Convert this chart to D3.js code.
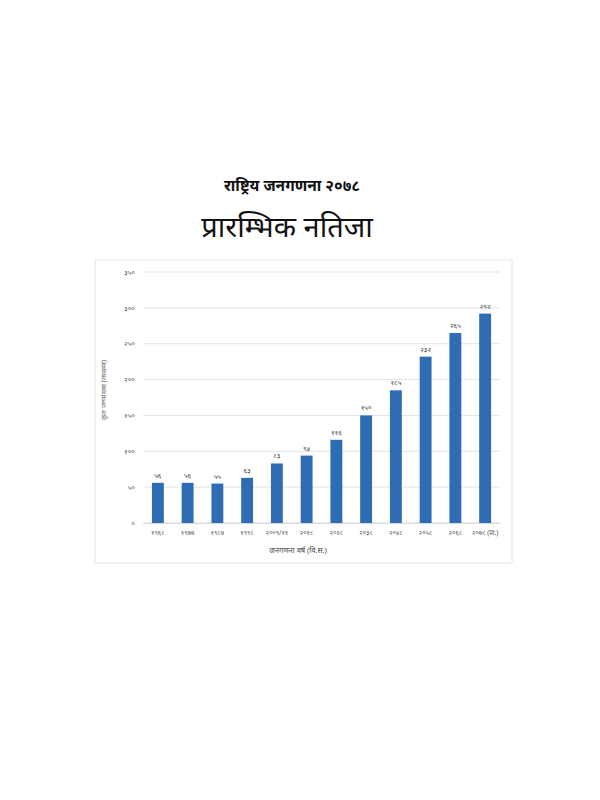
<!DOCTYPE html>
<html><head><meta charset="utf-8">
<script src="https://cdn.jsdelivr.net/npm/d3@7"></script>
<style>body{margin:0;background:#fff}</style>
</head><body>
<script>
const years = ["१९६८","१९७७","१९८७","१९९८","२००९/११","२०१८","२०२८","२०३८","२०४८","२०५८","२०६८","२०७८ (प्रा.)"];
const population = [56,56,55,63,83,94,116,150,185,232,265,292];
const valueLabels = ["५६","५६","५५","६३","८३","९४","११६","१५०","१८५","२३२","२६५","२९२"];
const yTicks = [0,50,100,150,200,250,300,350];
const yTickLabels = ["०","५०","१००","१५०","२००","२५०","३००","३५०"];
const title1 = "राष्ट्रिय जनगणना २०७८";
const title2 = "प्रारम्भिक नतिजा";
const xTitle = "जनगणना वर्ष (वि.स.)";
const yTitle = "कुल जनसंख्या (लाखमा)";

const font = "'Noto Sans','Noto Sans CJK SC',sans-serif";
const svg = d3.select("body").append("svg").attr("width",600).attr("height",800);

svg.append("text").attr("x",292).attr("y",191).attr("text-anchor","middle")
  .attr("font-family",font).attr("font-size",15.5).attr("font-weight","bold").attr("fill","#111").text(title1);
svg.append("text").attr("x",287).attr("y",237).attr("text-anchor","middle")
  .attr("font-family",font).attr("font-size",29).attr("fill","#111").text(title2);

svg.append("rect").attr("x",95).attr("y",260).attr("width",417).attr("height",303)
  .attr("fill","#fff").attr("stroke","#e4e4e4").attr("stroke-width",1);

const x = d3.scaleBand().domain(years).range([143,500]).paddingInner(0.6).paddingOuter(0.3);
const y = d3.scaleLinear().domain([0,350]).range([523,272]);

const grid = svg.append("g");
grid.selectAll("line").data(yTicks).join("line")
  .attr("x1",143).attr("x2",500).attr("y1",d=>y(d)).attr("y2",d=>y(d))
  .attr("stroke","#e3e3e3").attr("stroke-width",1);

const yAxis = svg.append("g").attr("transform","translate(143,0)")
  .call(d3.axisLeft(y).tickValues(yTicks).tickFormat((d,i)=>yTickLabels[i]).tickSize(0).tickPadding(8));
yAxis.select(".domain").remove();
yAxis.selectAll("text").attr("font-family",font).attr("font-size",7).attr("fill","#555");

svg.selectAll(".bar").data(population).join("rect").attr("class","bar")
  .attr("x",(d,i)=>x(years[i])).attr("width",x.bandwidth())
  .attr("y",d=>y(d)).attr("height",d=>y(0)-y(d)).attr("fill","#2e6db4");

svg.selectAll(".vl").data(population).join("text").attr("class","vl")
  .attr("x",(d,i)=>x(years[i])+x.bandwidth()/2).attr("y",d=>y(d)-5)
  .attr("text-anchor","middle").attr("font-family",font).attr("font-size",7).attr("fill","#444")
  .text((d,i)=>valueLabels[i]);

const xAxis = svg.append("g").attr("transform","translate(0,523)")
  .call(d3.axisBottom(x).tickSize(0).tickPadding(7));
xAxis.select(".domain").attr("stroke","#d9d9d9");
xAxis.selectAll("text").attr("font-family",font).attr("font-size",6.5).attr("fill","#555");

svg.append("text").attr("x",298).attr("y",553).attr("text-anchor","middle")
  .attr("font-family",font).attr("font-size",7.5).attr("fill","#444").text(xTitle);
svg.append("text").attr("transform","translate(106,390) rotate(-90)").attr("text-anchor","middle")
  .attr("font-family",font).attr("font-size",7).attr("fill","#666").text(yTitle);
</script>
</body></html>
